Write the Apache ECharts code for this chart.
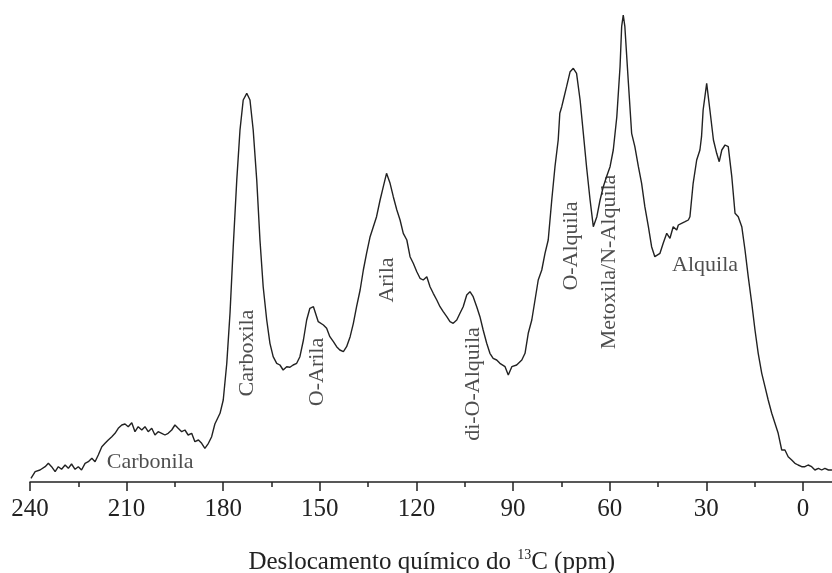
<!DOCTYPE html>
<html>
<head>
<meta charset="utf-8">
<script src="https://cdn.jsdelivr.net/npm/echarts@6/dist/echarts.min.js"></script>
<style>html,body{margin:0;padding:0;background:#fff;}#c{width:832px;height:573px;}</style>
</head>
<body>
<div id="c"></div>
<script>
// Chemical shift (ppm) and intensity (arbitrary units)
var ppm = [239.7,238.4,236.9,235.3,234.3,233.3,232.2,231.2,230.2,229.1,228.1,227.1,226.0,225.0,224.0,222.9,221.9,220.8,219.8,218.8,217.7,216.7,215.7,214.6,213.6,212.6,211.5,210.5,209.5,208.4,207.4,206.4,205.3,204.3,203.3,202.2,201.2,200.2,199.1,198.1,197.1,196.0,195.0,194.0,192.9,191.9,190.9,189.8,188.8,187.7,186.7,185.7,184.6,183.6,182.6,181.0,180.0,178.9,177.9,176.9,175.8,174.8,173.8,172.7,171.7,170.7,169.6,168.6,167.6,166.5,165.5,164.5,163.4,162.4,161.4,160.3,159.3,158.3,157.2,156.2,155.1,154.1,153.1,152.0,151.0,150.5,148.9,147.9,146.9,145.8,144.8,143.8,142.7,141.7,140.6,139.6,138.6,137.5,136.5,135.5,134.4,133.4,132.4,131.3,130.3,129.3,128.2,127.2,126.1,125.1,124.1,123.0,122.0,121.0,119.9,118.9,117.9,116.8,115.8,114.8,113.7,112.7,111.7,110.6,109.6,108.6,107.5,106.5,105.5,104.4,103.4,102.4,101.3,100.3,99.3,98.2,97.2,96.2,95.1,94.1,92.5,91.5,90.4,88.9,87.3,86.3,85.3,84.2,83.2,82.2,81.1,80.1,79.1,78.0,77.0,76.0,75.5,74.9,74.4,73.4,72.3,71.3,70.3,69.2,68.2,67.2,66.1,65.1,64.6,64.0,63.0,62.0,61.0,59.9,58.9,57.8,56.8,56.3,55.8,55.3,54.2,53.2,52.2,51.1,50.1,49.1,48.0,47.0,46.0,45.4,44.4,43.4,42.3,41.3,40.3,39.2,38.7,37.7,36.6,35.6,35.1,34.1,33.0,32.0,31.5,31.0,29.9,28.9,27.8,26.8,26.0,25.2,24.2,23.2,22.1,21.1,20.1,19.0,18.0,17.0,15.9,14.9,13.9,12.8,11.8,10.8,9.7,8.7,7.7,6.6,5.6,4.6,3.5,2.5,1.5,0.4,-0.6,-1.6,-2.7,-3.7,-4.8,-5.8,-6.8,-7.9,-9.0];
var intensity = [3.7,10.3,12,15.3,18.7,15.3,10.3,15.3,12.7,17,13.7,18,12.7,15.3,12,18.7,20.3,23.7,20.3,27,35.3,38.7,42,45.3,48.7,53.7,57,58,55.3,59.3,50.3,55.3,52,55.3,50.3,53.7,47,50.3,48.7,47,48.7,52,57,53.7,50.3,52,47,48.7,40.3,42,38.7,33.7,38.7,45.3,58,68.7,82,118.7,168.7,235.3,302,352,382,388.7,382,352,302,242,195.3,162,138.7,125.3,118.7,117,112,115.3,114.7,117,118.7,125.3,142,162,173.7,175.3,165.3,160.3,157,153.7,145.3,140.3,135.3,132,130.3,135.3,145.3,158.7,175.3,192,212,228.7,245.3,255.3,265.3,282,295.3,308.7,298.7,285.3,272,262,248.7,242,225.3,218.7,210.3,203.7,202,205.3,195.3,188.7,182,175.3,170.3,165.3,160.3,158.7,162,168.7,175.3,187,190.3,185.3,175.3,165.3,152,138.7,128.7,123.7,122,118.7,115.3,107,115.3,117,122,128.7,148.7,162,182,202,212,228.7,242,282,315.3,342,368.7,375.3,382,395.3,410.3,413.7,408.7,382,348.7,315.3,282,255.3,253.7,265.3,282,295.3,305.3,315.3,332,365.3,415.3,455.3,467,455.3,398.7,348.7,335.3,315.3,298.7,275.3,255.3,235.3,225.3,227,228.7,238.7,248.7,243.7,255.3,252,257,258.7,260.3,262,265.3,298.7,322,332,345.3,372,398.7,372,342,328.7,320.3,332,337,335.3,305.3,268.7,265.3,255.3,232,205.3,178.7,152,128.7,108.7,95.3,82,68.7,58.7,48.7,32,32,25.3,22,18.7,17,15.3,15.3,17,15.3,12,13.7,12,13.7,12,12];

// Axis tick values
var tickInterval = 30;
var axisMin = -30, axisMax = 240;

// Peak annotations
var annoText = ['Carbonila','Carboxila','O-Arila','Arila','di-O-Alquila','O-Alquila','Metoxila/N-Alquila','Alquila'];
var annoPpm  = [202.7, 172.6, 150.9, 129.2, 102.5, 72.0, 60.2, 30.4];
var annoVal  = [20, 129, 110, 202, 98, 236, 220, 217];
var annoRot  = [0, 90, 90, 90, 90, 90, 90, 0];

var serif = '"Liberation Serif","Times New Roman",serif';
var lineData = ppm.map(function (p, i) { return [p, intensity[i]]; });
var annoData = annoText.map(function (t, i) {
  return { value: [annoPpm[i], annoVal[i]], name: t, label: { rotate: annoRot[i] } };
});

var chart = echarts.init(document.getElementById('c'), null, { renderer: 'canvas' });
chart.setOption({
  animation: false,
  backgroundColor: '#ffffff',
  grid: { left: 30, width: 869.6, top: 0, bottom: 91, containLabel: false, outerBoundsMode: 'none' },
  xAxis: {
    type: 'value',
    inverse: true,
    min: axisMin, max: axisMax, interval: tickInterval,
    splitLine: { show: false },
    axisLine: { show: true, onZero: false, lineStyle: { color: '#222', width: 1.5 } },
    axisTick: { show: true, inside: false, length: 9, lineStyle: { color: '#222', width: 1.5 } },
    minorTick: { show: true, splitNumber: 2, length: 5, lineStyle: { color: '#222', width: 1.5 } },
    axisLabel: {
      margin: 15, color: '#222', fontFamily: serif, fontSize: 25,
      formatter: function (v) { return v < 0 ? '' : String(v); }
    },
    name: '{a|Deslocamento químico do }{s|13}{a|C (ppm)}',
    nameLocation: 'middle',
    nameGap: 66,
    nameTextStyle: {
      padding: [0, 66, 0, 0],
      rich: {
        a: { fontFamily: serif, fontSize: 25, color: '#222', lineHeight: 28 },
        s: { fontFamily: serif, fontSize: 14, color: '#222', verticalAlign: 'top', lineHeight: 28 }
      }
    }
  },
  yAxis: { type: 'value', min: 0, max: 482, show: false },
  series: [
    {
      type: 'line', data: lineData, showSymbol: false, symbol: 'none', smooth: false,
      lineStyle: { color: '#222', width: 1.4 }, silent: true, clip: true
    },
    {
      type: 'scatter', data: annoData, symbolSize: 0, silent: true, z: 5,
      label: {
        show: true, position: 'inside', formatter: function (p) { return p.name; },
        fontFamily: serif, fontSize: 22, color: '#222', align: 'center', verticalAlign: 'middle'
      }
    }
  ]
});
</script>
</body>
</html>
